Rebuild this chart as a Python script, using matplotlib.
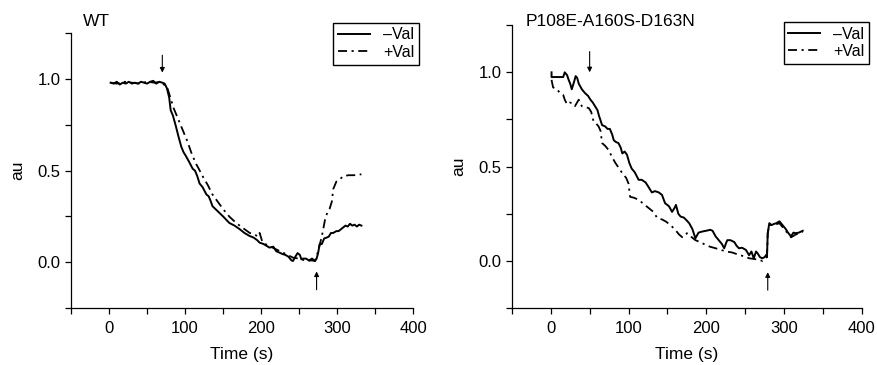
import numpy as np
import matplotlib
matplotlib.use('Agg')
import matplotlib.pyplot as plt

plt.rcParams['font.family'] = ['Liberation Sans', 'DejaVu Sans']
fontsize1 = 12.5

# WT panel
wt_minus_t = [2, 6, 10, 14, 18, 22, 26, 30, 34, 38, 42, 46, 50, 54, 58, 62, 66, 70,
              73, 76, 79, 81, 84, 88, 91, 95, 98, 101, 105, 110, 113, 116, 119, 123,
              128, 131, 134, 136, 140, 145, 150, 158, 165, 172, 178, 185, 190, 195,
              198, 203, 207, 211, 216, 220, 224, 228, 232, 236, 240, 242, 245, 248,
              251, 253, 255, 259, 263, 267, 271, 273, 275, 277, 280, 283, 286, 289,
              292, 295, 299, 302, 305, 308, 311, 314, 317, 320, 323, 326, 329, 332]
wt_minus_v = [0.98, 0.975, 0.985, 0.97, 0.98, 0.975, 0.985, 0.975, 0.98, 0.975,
              0.985, 0.98, 0.975, 0.985, 0.99, 0.975, 0.985, 0.98,
              0.975, 0.95, 0.9, 0.83, 0.8, 0.74, 0.69, 0.63, 0.6, 0.58, 0.55, 0.51,
              0.5, 0.47, 0.43, 0.41, 0.37, 0.36, 0.33, 0.306, 0.29, 0.27, 0.25,
              0.215, 0.2, 0.18, 0.16, 0.143, 0.135, 0.12, 0.107, 0.1, 0.09, 0.08,
              0.085, 0.06, 0.053, 0.045, 0.04, 0.03, 0.01, 0.007, 0.03, 0.05, 0.04,
              0.016, 0.02, 0.02, 0.01, 0.02, 0.007, 0.02, 0.05, 0.098, 0.1, 0.13,
              0.134, 0.14, 0.16, 0.16, 0.17, 0.17, 0.18, 0.19, 0.2, 0.195, 0.21,
              0.2, 0.205, 0.195, 0.205, 0.2]
wt_plus_t = [2, 10, 20, 30, 40, 50, 60, 68, 72, 76, 79, 85, 92, 97, 103, 108, 114,
             118, 123, 130, 136, 143, 150, 158, 167, 175, 185, 192, 196, 198, 202,
             210, 220, 230, 242, 250, 260, 266, 271, 275, 280, 284, 287, 290, 293,
             295, 299, 303, 308, 315, 322, 332]
wt_plus_v = [0.98, 0.975, 0.985, 0.98, 0.975, 0.985, 0.98, 0.985, 0.97, 0.96, 0.92,
             0.84, 0.77, 0.72, 0.66, 0.6, 0.54, 0.51, 0.47, 0.42, 0.37, 0.33, 0.29,
             0.25, 0.215, 0.19, 0.16, 0.15, 0.14, 0.16, 0.107, 0.09, 0.07, 0.05,
             0.025, 0.02, 0.007, 0.01, 0.007, 0.06, 0.143, 0.23, 0.27, 0.29, 0.33,
             0.4, 0.44, 0.45, 0.47, 0.475, 0.475, 0.48]

# P108E-A160S-D163N panel
mut_minus_t = [1, 1, 6, 12, 16, 18, 21, 23, 25, 27, 30, 32, 34, 36, 40, 44, 48, 51,
               54, 57, 60, 62, 66, 70, 73, 76, 79, 81, 84, 87, 90, 92, 95, 98, 101,
               104, 108, 113, 117, 122, 126, 130, 134, 139, 143, 147, 152, 156, 159,
               161, 164, 167, 171, 174, 178, 182, 186, 190, 195, 200, 205, 208, 212,
               216, 220, 223, 225, 227, 231, 236, 239, 242, 246, 251, 255, 258, 261,
               264, 266, 269, 272, 275, 277, 278, 279, 281, 284, 287, 290, 294, 298,
               302, 305, 309, 312, 315, 319, 324]
mut_minus_v = [1.0, 0.975, 0.975, 0.975, 0.975, 1.0, 0.985, 0.96, 0.94, 0.91, 0.95,
               0.98, 0.97, 0.94, 0.91, 0.89, 0.875, 0.855, 0.84, 0.82, 0.8, 0.77,
               0.72, 0.713, 0.7, 0.7, 0.67, 0.64, 0.63, 0.625, 0.6, 0.57, 0.58,
               0.563, 0.52, 0.49, 0.47, 0.43, 0.43, 0.416, 0.39, 0.363, 0.37, 0.363,
               0.35, 0.306, 0.29, 0.26, 0.28, 0.297, 0.25, 0.235, 0.23, 0.218, 0.2,
               0.17, 0.12, 0.15, 0.156, 0.16, 0.165, 0.16, 0.13, 0.11, 0.09, 0.067,
               0.09, 0.11, 0.11, 0.1, 0.08, 0.067, 0.07, 0.058, 0.03, 0.05, 0.014,
               0.05, 0.04, 0.02, 0.014, 0.02, 0.032, 0.02, 0.147, 0.2, 0.19, 0.196,
               0.2, 0.21, 0.19, 0.17, 0.15, 0.13, 0.15, 0.147, 0.15, 0.16]
mut_plus_t = [1, 3, 8, 12, 16, 18, 21, 24, 27, 31, 36, 40, 45, 49, 52, 55, 58, 61.5,
              64, 66, 70, 74, 79, 83, 88, 92, 97, 100, 102, 107, 113, 120, 126, 132,
              137, 143, 148, 154, 160, 165, 169, 172, 175, 180, 186, 192, 199, 205,
              212, 218, 225, 233, 242, 248, 255, 262, 268, 272, 276, 278, 279, 281,
              287, 294, 298, 302, 309, 315, 324]
mut_plus_v = [0.96, 0.92, 0.91, 0.89, 0.88, 0.855, 0.83, 0.84, 0.837, 0.82, 0.855,
              0.82, 0.815, 0.81, 0.79, 0.74, 0.73, 0.713, 0.69, 0.625, 0.61, 0.59,
              0.55, 0.52, 0.49, 0.465, 0.44, 0.41, 0.34, 0.335, 0.324, 0.3, 0.28,
              0.26, 0.227, 0.22, 0.209, 0.19, 0.165, 0.14, 0.126, 0.13, 0.147, 0.13,
              0.11, 0.1, 0.085, 0.075, 0.067, 0.06, 0.05, 0.045, 0.032, 0.025,
              0.014, 0.01, 0.005, 0.0, 0.014, 0.02, 0.147, 0.19, 0.19, 0.2, 0.18,
              0.16, 0.125, 0.14, 0.155]

panels = [
    dict(title='WT', minus=(wt_minus_t, wt_minus_v), plus=(wt_plus_t, wt_plus_v),
         down=(70, 1.13, 1.035), up=(273, -0.15, -0.05),
         rect=[0.081, 0.156, 0.3895, 0.753], title_x=0.094, leg=(0.477, 0.938)),
    dict(title='P108E-A160S-D163N', minus=(mut_minus_t, mut_minus_v),
         plus=(mut_plus_t, mut_plus_v),
         down=(50, 1.11, 1.0), up=(279, -0.155, -0.06),
         rect=[0.583, 0.156, 0.3986, 0.775], title_x=0.599, leg=(0.99, 0.94)),
]

fig = plt.figure(figsize=(8.78, 3.65), dpi=100)
dashdot = (0, (5, 2.5, 1.2, 2.5))

for p in panels:
    ax = fig.add_axes(p['rect'])
    ax.plot(*p['minus'], '-k', linewidth=1.4, label='–Val')
    ax.plot(*p['plus'], color='k', linestyle=dashdot, linewidth=1.3, label='+Val')
    x, y0, y1 = p['down']
    ax.annotate('', xy=(x, y1), xytext=(x, y0),
                arrowprops=dict(arrowstyle='-|>', color='k', lw=0.8,
                                mutation_scale=7, shrinkA=0, shrinkB=0))
    x, y0, y1 = p['up']
    ax.annotate('', xy=(x, y1), xytext=(x, y0),
                arrowprops=dict(arrowstyle='-|>', color='k', lw=0.8,
                                mutation_scale=7, shrinkA=0, shrinkB=0))
    ax.set_xlim(-50, 400)
    ax.set_ylim(-0.25, 1.25)
    xt = np.arange(-50, 401, 50)
    ax.set_xticks(xt)
    ax.set_xticklabels([str(v) if v % 100 == 0 else '' for v in xt])
    yt = np.arange(-0.25, 1.26, 0.25)
    ax.set_yticks(yt)
    ax.set_yticklabels(['%.1f' % v if abs(v * 2 - round(v * 2)) < 1e-6 else '' for v in yt])
    ax.tick_params(direction='out', length=4, width=0.9, labelsize=12)
    ax.tick_params(axis='x', pad=5)
    for s in ['top', 'right']:
        ax.spines[s].set_visible(False)
    for s in ['left', 'bottom']:
        ax.spines[s].set_linewidth(0.9)
    ax.set_xlabel('Time (s)', fontsize=fontsize1, labelpad=8)
    ax.set_ylabel('au', fontsize=fontsize1, labelpad=9)
    fig.text(p['title_x'], 0.94, p['title'], fontsize=fontsize1, va='center')
    leg = ax.legend(loc='upper right', bbox_to_anchor=p['leg'],
                    bbox_transform=fig.transFigure, fontsize=11.5, frameon=True,
                    fancybox=False, edgecolor='k', framealpha=1,
                    handlelength=2.0, borderpad=0.3, labelspacing=0.15,
                    handletextpad=0.8, borderaxespad=0)
    leg.get_frame().set_linewidth(1.0)

fig.savefig('out.png', dpi=100)
